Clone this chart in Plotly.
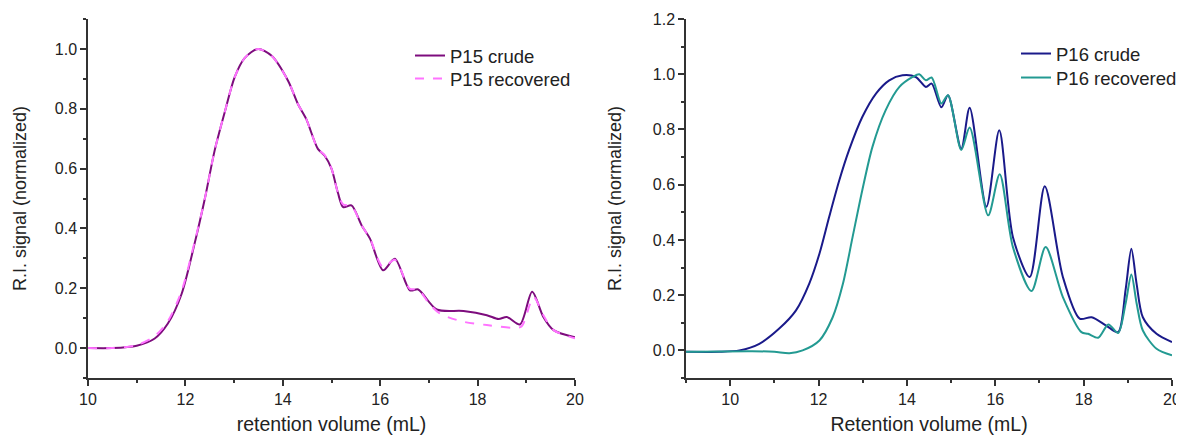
import plotly.graph_objects as go

# ---------------- data ----------------
p15_x = [10.0, 10.5, 11.0, 11.37, 11.64, 11.92, 12.19, 12.40, 12.60, 12.81, 13.01, 13.22, 13.49,
         13.77, 14.11, 14.31, 14.48, 14.72, 14.86, 15.0, 15.13, 15.24, 15.41, 15.62, 15.79, 16.06,
         16.30, 16.61, 16.78, 17.16, 17.71, 18.19, 18.43, 18.60, 18.87, 19.12, 19.35, 19.56, 20.0]
p15_crude = [0.0, 0.0, 0.008, 0.032, 0.082, 0.18, 0.35, 0.50, 0.66, 0.79, 0.905, 0.97, 1.0,
             0.977, 0.893, 0.816, 0.766, 0.666, 0.643, 0.60, 0.52, 0.471, 0.477, 0.41, 0.366, 0.26,
             0.299, 0.193, 0.196, 0.129, 0.124, 0.11, 0.097, 0.104, 0.079, 0.188, 0.104, 0.06, 0.036]

p15r_x = [10.0, 10.5, 11.0, 11.37, 11.64, 11.92, 12.19, 12.40, 12.60, 12.81, 13.01, 13.22, 13.49,
          13.77, 14.11, 14.31, 14.48, 14.72, 14.86, 15.0, 15.13, 15.24, 15.41, 15.62, 15.79, 16.06,
          16.30, 16.61, 16.78, 17.0, 17.23, 17.71, 18.19, 18.73, 18.90, 19.15, 19.35, 19.56, 20.0]
p15_recovered = [0.0, 0.0, 0.01, 0.04, 0.09, 0.19, 0.355, 0.50, 0.66, 0.79, 0.905, 0.97, 1.0,
                 0.977, 0.893, 0.816, 0.766, 0.666, 0.645, 0.60, 0.52, 0.48, 0.475, 0.41, 0.366, 0.27,
                 0.295, 0.198, 0.196, 0.15, 0.115, 0.088, 0.077, 0.068, 0.072, 0.17, 0.11, 0.06, 0.033]

p16_x = [9.0, 9.75, 10.21, 10.66, 11.11, 11.49, 11.79, 12.02, 12.24, 12.47, 12.69, 12.99, 13.30,
         13.60, 13.90, 14.20, 14.43, 14.56, 14.78, 14.93, 15.23, 15.42, 15.80, 16.09, 16.40, 16.78,
         17.12, 17.53, 17.91, 18.18, 18.51, 18.78, 18.95, 19.08, 19.20, 19.34, 19.65, 20.0]
p16_crude = [-0.005, -0.005, 0.0, 0.024, 0.079, 0.145, 0.242, 0.35, 0.483, 0.616, 0.725, 0.845, 0.93,
             0.978, 0.996, 0.99, 0.954, 0.966, 0.88, 0.924, 0.73, 0.879, 0.52, 0.797, 0.41, 0.266,
             0.594, 0.266, 0.115, 0.12, 0.09, 0.066, 0.22, 0.368, 0.24, 0.12, 0.06, 0.03]

p16r_x = [9.0, 10.5, 11.0, 11.34, 11.64, 12.02, 12.32, 12.55, 12.77, 12.99, 13.22, 13.52, 13.83,
          14.13, 14.28, 14.43, 14.56, 14.78, 14.93, 15.23, 15.42, 15.84, 16.10, 16.40, 16.82, 17.14,
          17.53, 17.95, 18.10, 18.33, 18.56, 18.78, 18.95, 19.08, 19.20, 19.34, 19.65, 20.0]
p16_recovered = [-0.005, -0.003, -0.005, -0.01, 0.0, 0.036, 0.12, 0.24, 0.41, 0.58, 0.737, 0.87, 0.954,
                 0.99, 1.0, 0.978, 0.988, 0.894, 0.924, 0.726, 0.807, 0.489, 0.638, 0.374, 0.215, 0.374,
                 0.193, 0.066, 0.06, 0.046, 0.094, 0.063, 0.17, 0.275, 0.17, 0.072, 0.006, -0.018]

left_yticks = [0.0, 0.2, 0.4, 0.6, 0.8, 1.0]
right_yticks = [0.0, 0.2, 0.4, 0.6, 0.8, 1.0, 1.2]
x_ticks = [10, 12, 14, 16, 18, 20]

# ---------------- figure ----------------
# page body has an 8px margin; the figure is sized to fit the 1184x437 window
W, H, OFF = 1176, 429, 8


def px(xpix):
    return (xpix - OFF) / W


def py(ypix):
    return 1 - (ypix - OFF) / H


FONT = "Arial, Liberation Sans, sans-serif"
TXT = "#222222"
AX = "#333333"

fig = go.Figure()
fig.add_trace(go.Scatter(x=p15_x, y=p15_crude, name="P15 crude", mode="lines",
                         line=dict(color="#7d0c7d", width=2, shape="spline", smoothing=0.8),
                         xaxis="x", yaxis="y", legend="legend"))
fig.add_trace(go.Scatter(x=p15r_x, y=p15_recovered, name="P15 recovered", mode="lines",
                         line=dict(color="#ff73ff", width=2, dash="dash", shape="spline", smoothing=0.8),
                         xaxis="x", yaxis="y", legend="legend2"))
fig.add_trace(go.Scatter(x=p16_x, y=p16_crude, name="P16 crude", mode="lines",
                         line=dict(color="#1a1a8a", width=2, shape="spline", smoothing=0.8),
                         xaxis="x2", yaxis="y2", legend="legend3"))
fig.add_trace(go.Scatter(x=p16r_x, y=p16_recovered, name="P16 recovered", mode="lines",
                         line=dict(color="#239a92", width=2, shape="spline", smoothing=0.8),
                         xaxis="x2", yaxis="y2", legend="legend4"))

common_axis = dict(showline=True, linecolor=AX, linewidth=1.5, showgrid=False, zeroline=False,
                   ticks="outside", ticklen=6, tickwidth=1.5, tickcolor=AX, automargin=False,
                   tickfont=dict(family=FONT, size=16, color=TXT), mirror=False)
minor_x = dict(ticks="outside", ticklen=3, tickwidth=1.5, tickcolor=AX, dtick=1, tick0=0)
minor_y = dict(ticks="outside", ticklen=3, tickwidth=1.5, tickcolor=AX, dtick=0.1, tick0=0)
xtitle_font = dict(family=FONT, size=19.5, color=TXT)
ytitle_font = dict(family=FONT, size=18, color=TXT)

ydom = [py(378), py(19)]
leg_common = dict(xanchor="left", yanchor="top", bgcolor="rgba(0,0,0,0)",
                  font=dict(family=FONT, size=18.5, color=TXT))

fig.update_layout(
    width=W, height=H,
    margin=dict(l=0, r=0, t=0, b=0, autoexpand=False),
    paper_bgcolor="white", plot_bgcolor="white",
    font=dict(family=FONT, color=TXT),
    xaxis=dict(domain=[px(88), px(575)], range=[10, 20], tickvals=x_ticks, minor=minor_x,
               anchor="y", title=dict(text="retention volume (mL)", standoff=10, font=xtitle_font),
               **common_axis),
    yaxis=dict(domain=ydom, range=[-0.1, 1.1], tickvals=left_yticks, tickformat=".1f", minor=minor_y,
               anchor="x", title=dict(text="R.I. signal (normalized)", standoff=23, font=ytitle_font),
               **common_axis),
    xaxis2=dict(domain=[px(686), px(1172)], range=[9, 20], tickvals=x_ticks, minor=minor_x,
                anchor="y2", title=dict(text="Retention volume (mL)", standoff=10, font=xtitle_font),
                **common_axis),
    yaxis2=dict(domain=ydom, range=[-0.1, 1.2], tickvals=right_yticks, tickformat=".1f", minor=minor_y,
                anchor="x2", title=dict(text="R.I. signal (normalized)", standoff=26, font=ytitle_font),
                **common_axis),
    legend=dict(x=px(410), y=py(37), **leg_common),
    legend2=dict(x=px(410), y=py(60), **leg_common),
    legend3=dict(x=px(1016), y=py(35), **leg_common),
    legend4=dict(x=px(1016), y=py(59), **leg_common),
    showlegend=True,
)

fig.write_html("out.html")
